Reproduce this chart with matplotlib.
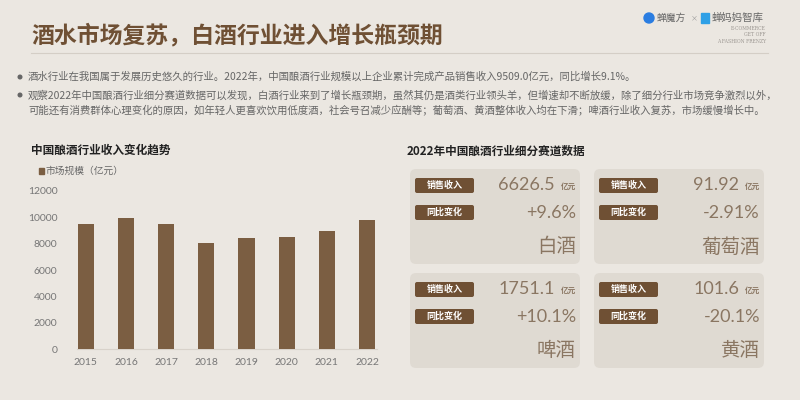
import matplotlib.pyplot as plt
from matplotlib.patches import FancyBboxPatch, Rectangle, Circle

plt.rcParams['font.family'] = ['Noto Sans CJK SC', 'DejaVu Sans']
num_font = ['Lato', 'Noto Sans CJK SC']

# 数据
years = ['2015', '2016', '2017', '2018', '2019', '2020', '2021', '2022']
income = [9460, 9950, 9450, 8060, 8440, 8520, 8970, 9780]
yticks = [0, 2000, 4000, 6000, 8000, 10000, 12000]

kinds = ['白酒', '葡萄酒', '啤酒', '黄酒']
sales = ['6626.5', '91.92', '1751.1', '101.6']
changes = ['+9.6%', '-2.91%', '+10.1%', '-20.1%']

bullets = [
    '酒水行业在我国属于发展历史悠久的行业。2022年，中国酿酒行业规模以上企业累计完成产品销售收入9509.0亿元，同比增长9.1%。',
    '观察2022年中国酿酒行业细分赛道数据可以发现，白酒行业来到了增长瓶颈期，虽然其仍是酒类行业领头羊，但增速却不断放缓，除了细分行业市场竞争激烈以外，',
    '可能还有消费群体心理变化的原因，如年轻人更喜欢饮用低度酒，社会号召减少应酬等；葡萄酒、黄酒整体收入均在下滑；啤酒行业收入复苏，市场缓慢增长中。',
]

bg = '#ebe7e1'
brown = '#6f5034'
bar_c = '#7b5e42'
soft = '#8a7662'

fig = plt.figure(figsize=(8, 4), dpi=100)
fig.patch.set_facecolor(bg)

# 整体画布（像素坐标）
ax0 = fig.add_axes([0, 0, 1, 1])
ax0.set_xlim(0, 800)
ax0.set_ylim(400, 0)
ax0.axis('off')

ax0.text(31, 36, '酒水市场复苏，白酒行业进入增长瓶颈期', fontsize=16.5, fontweight='bold',
         color=brown, va='center', ha='left')
ax0.plot([31, 768], [53, 53], color='#d4cec6', lw=0.8)

# logo
ax0.add_patch(Circle((649, 18), 5, color='#2a7de1'))
ax0.text(657, 18, '蝉魔方', fontsize=7, color='#666666', va='center')
ax0.text(691, 18, '×', fontsize=5, color='#999999', va='center')
ax0.add_patch(Rectangle((701, 13), 8, 10, color='#2fa0e6'))
ax0.text(712, 18, '蝉妈妈智库', fontsize=7.5, color='#666666', va='center')
ax0.text(766, 35, 'E-COMMERCE\nGET OFF\nA FASHION FRENZY', fontsize=3.3, color='#9a9590',
         va='center', ha='right', linespacing=1.3, family='DejaVu Serif')

# 要点
ys = [77, 95, 111]
for i, (s, y) in enumerate(zip(bullets, ys)):
    if i < 2:
        ax0.add_patch(Circle((20, y), 1.8, color='#666666'))
    ax0.text(28, y, s, fontsize=7.5, color='#666666', va='center', ha='left')

# 左侧标题与图例
ax0.text(31, 150, '中国酿酒行业收入变化趋势', fontsize=8.4, fontweight='bold', color='#222222', va='center')
ax0.add_patch(Rectangle((39, 168), 4.5, 5.5, color=bar_c))
ax0.text(46, 171, '市场规模（亿元）', fontsize=7, color='#666666', va='center')

# 右侧
ax0.text(407, 151, '2022年中国酿酒行业细分赛道数据', fontsize=8.4, fontweight='bold', color='#222222', va='center')

for i, (k, s, c) in enumerate(zip(kinds, sales, changes)):
    x0 = 410 + (i % 2) * 184
    y0 = 169 + (i // 2) * 104
    ax0.add_patch(FancyBboxPatch((x0, y0), 170, 95, boxstyle='round,pad=0,rounding_size=6',
                                 fc='#ddd7cf', ec='none', alpha=0.8))
    for j, lab in enumerate(['销售收入', '同比变化']):
        by = y0 + 9 + j * 27
        ax0.add_patch(FancyBboxPatch((x0 + 5, by), 59, 15, boxstyle='round,pad=0,rounding_size=2',
                                     fc=brown, ec='none'))
        ax0.text(x0 + 34.5, by + 7.5, lab, fontsize=6.5, fontweight='bold', color='white',
                 ha='center', va='center')
    ax0.text(x0 + 145, y0 + 16, s, fontsize=13, color=soft,
             ha='right', va='center', family=num_font)
    ax0.text(x0 + 166, y0 + 17.5, '亿元', fontsize=5.5, fontweight='bold', color=soft,
             ha='right', va='center')
    ax0.text(x0 + 166, y0 + 44, c, fontsize=13, color=soft,
             ha='right', va='center', family=num_font)
    ax0.text(x0 + 166, y0 + 78, k, fontsize=14, fontweight='light', color=soft,
             ha='right', va='center')

# 柱状图
ax = fig.add_axes([77 / 800, (400 - 349.3) / 400, 300 / 800, 158.6 / 400])
ax.patch.set_alpha(0)
x = range(len(years))
ax.bar(x, income, width=0.4, color=bar_c, zorder=3)
ax.set_xlim(-0.22, 7.25)
ax.set_ylim(0, 12000)
ax.set_yticks(yticks)
ax.set_xticks(list(x))
ax.set_xticklabels(years)
for sp in ['top', 'right', 'left']:
    ax.spines[sp].set_visible(False)
ax.spines['bottom'].set_color('#d8d2ca')
ax.spines['bottom'].set_linewidth(0.8)
ax.tick_params(axis='both', length=0, labelsize=7.5, labelcolor='#777777')
for t in ax.get_xticklabels() + ax.get_yticklabels():
    t.set_family(num_font)
ax.tick_params(axis='y', pad=14)
ax.tick_params(axis='x', pad=6)

fig.savefig('out.png', dpi=100, facecolor=bg)
